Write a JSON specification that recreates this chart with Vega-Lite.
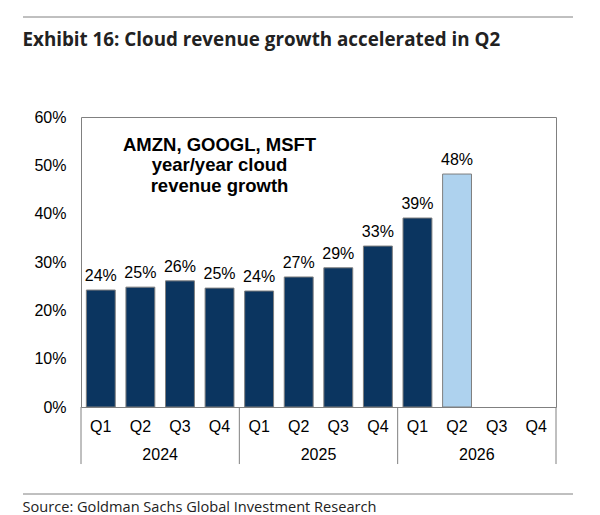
{
  "$schema": "https://vega.github.io/schema/vega-lite/v6.json",
  "background": "white",
  "padding": {"left": 22, "top": 16, "right": 20, "bottom": 0},
  "config": {"view": {"stroke": null}, "font": "Liberation Sans"},
  "datasets": {
    "quarters": [
      {"period": "2024 Q1", "year": "2024", "growth": 0.242, "status": "prior"},
      {"period": "2024 Q2", "year": "2024", "growth": 0.248, "status": "prior"},
      {"period": "2024 Q3", "year": "2024", "growth": 0.261, "status": "prior"},
      {"period": "2024 Q4", "year": "2024", "growth": 0.246, "status": "prior"},
      {"period": "2025 Q1", "year": "2025", "growth": 0.240, "status": "prior"},
      {"period": "2025 Q2", "year": "2025", "growth": 0.269, "status": "prior"},
      {"period": "2025 Q3", "year": "2025", "growth": 0.288, "status": "prior"},
      {"period": "2025 Q4", "year": "2025", "growth": 0.333, "status": "prior"},
      {"period": "2026 Q1", "year": "2026", "growth": 0.391, "status": "prior"},
      {"period": "2026 Q2", "year": "2026", "growth": 0.482, "status": "latest"}
    ],
    "years": [
      {"year": "2024"},
      {"year": "2025"},
      {"year": "2026"}
    ]
  },
  "spacing": 58,
  "vconcat": [
    {
      "width": 475,
      "height": 1,
      "data": {"values": [{}]},
      "mark": {"type": "rule", "color": "#808080", "strokeWidth": 1},
      "encoding": {
        "x": {"datum": 0, "scale": {"domain": [0, 1], "range": [-58, 492]}, "axis": null},
        "x2": {"datum": 1},
        "y": {"datum": 1, "scale": {"domain": [0, 1]}, "axis": null}
      },
      "title": {
        "text": "Exhibit 16: Cloud revenue growth accelerated in Q2",
        "orient": "bottom",
        "anchor": "start",
        "frame": "bounds",
        "offset": 13,
        "font": "Open Sans",
        "fontSize": 18.8,
        "fontWeight": "bold",
        "color": "#222222"
      }
    },
    {
      "spacing": 27,
      "vconcat": [
        {
          "width": 475,
          "height": 290,
          "view": {"stroke": "#808080", "strokeWidth": 1},
          "resolve": {"scale": {"x": "independent"}, "axis": {"x": "independent"}},
          "layer": [
            {
              "data": {"name": "quarters"},
              "layer": [
                {
                  "mark": {"type": "bar", "stroke": "#7f7f7f", "strokeWidth": 1},
                  "encoding": {
                    "x": {
                      "field": "period",
                      "type": "nominal",
                      "sort": null,
                      "scale": {
                        "domain": ["2024 Q1", "2024 Q2", "2024 Q3", "2024 Q4", "2025 Q1", "2025 Q2", "2025 Q3", "2025 Q4", "2026 Q1", "2026 Q2", "2026 Q3", "2026 Q4"],
                        "paddingInner": 0.27,
                        "paddingOuter": 0.135
                      },
                      "axis": {
                        "title": null,
                        "labelExpr": "split(datum.label, ' ')[1]",
                        "labelAngle": 0,
                        "ticks": false,
                        "domain": false,
                        "labelPadding": 11,
                        "labelFontSize": 16,
                        "labelColor": "#000000",
                        "labelFont": "Liberation Sans"
                      }
                    },
                    "y": {
                      "field": "growth",
                      "type": "quantitative",
                      "scale": {"domain": [0, 0.6]},
                      "axis": {
                        "title": null,
                        "values": [0, 0.1, 0.2, 0.3, 0.4, 0.5, 0.6],
                        "format": ".0%",
                        "grid": false,
                        "ticks": false,
                        "domain": false,
                        "labelPadding": 15,
                        "labelFontSize": 16,
                        "labelColor": "#000000",
                        "labelFont": "Liberation Sans",
                        "minExtent": 58,
                        "maxExtent": 58
                      }
                    },
                    "color": {
                      "field": "status",
                      "type": "nominal",
                      "scale": {"domain": ["prior", "latest"], "range": ["#0b3560", "#aed2ee"]},
                      "legend": null
                    }
                  }
                },
                {
                  "mark": {"type": "text", "baseline": "alphabetic", "dy": -9, "fontSize": 16, "color": "#000000"},
                  "encoding": {
                    "x": {"field": "period", "type": "nominal"},
                    "y": {"field": "growth", "type": "quantitative"},
                    "text": {"field": "growth", "type": "quantitative", "format": ".0%"}
                  }
                },
                {
                  "data": {"values": [{}]},
                  "mark": {
                    "type": "text",
                    "align": "center",
                    "baseline": "alphabetic",
                    "fontSize": 18.5,
                    "fontWeight": "bold",
                    "lineHeight": 20.5,
                    "color": "#000000"
                  },
                  "encoding": {
                    "x": {"datum": "2024 Q4"},
                    "y": {"datum": 0.53},
                    "text": {"value": ["AMZN, GOOGL, MSFT", "year/year cloud", "revenue growth"]}
                  }
                }
              ]
            },
            {
              "data": {"name": "years"},
              "layer": [
                {
                  "mark": {"type": "rule", "color": "#808080", "strokeWidth": 1},
                  "encoding": {
                    "x": {"field": "year", "type": "nominal", "bandPosition": 0, "scale": {"paddingInner": 0, "paddingOuter": 0}, "axis": null},
                    "y": {"datum": 0},
                    "y2": {"datum": -0.118}
                  }
                },
                {
                  "transform": [{"filter": "datum.year == '2026'"}],
                  "mark": {"type": "rule", "color": "#808080", "strokeWidth": 1},
                  "encoding": {
                    "x": {"field": "year", "type": "nominal", "bandPosition": 1, "axis": null},
                    "y": {"datum": 0},
                    "y2": {"datum": -0.118}
                  }
                },
                {
                  "mark": {"type": "text", "baseline": "middle", "fontSize": 16, "color": "#000000"},
                  "encoding": {
                    "x": {"field": "year", "type": "nominal", "axis": null},
                    "y": {"datum": -0.099},
                    "text": {"field": "year"}
                  }
                }
              ]
            }
          ]
        },
        {
          "width": 475,
          "height": 1,
          "data": {"values": [{}]},
          "mark": {"type": "rule", "color": "#808080", "strokeWidth": 1},
          "encoding": {
            "x": {"datum": 0, "scale": {"domain": [0, 1], "range": [-58, 492]}, "axis": null},
            "x2": {"datum": 1},
            "y": {"datum": 1, "scale": {"domain": [0, 1]}, "axis": null}
          },
          "title": {
            "text": "Source: Goldman Sachs Global Investment Research",
            "orient": "bottom",
            "anchor": "start",
            "frame": "bounds",
            "offset": 5,
            "font": "Open Sans",
            "fontSize": 14.6,
            "fontWeight": "normal",
            "color": "#222222"
          }
        }
      ]
    }
  ]
}
